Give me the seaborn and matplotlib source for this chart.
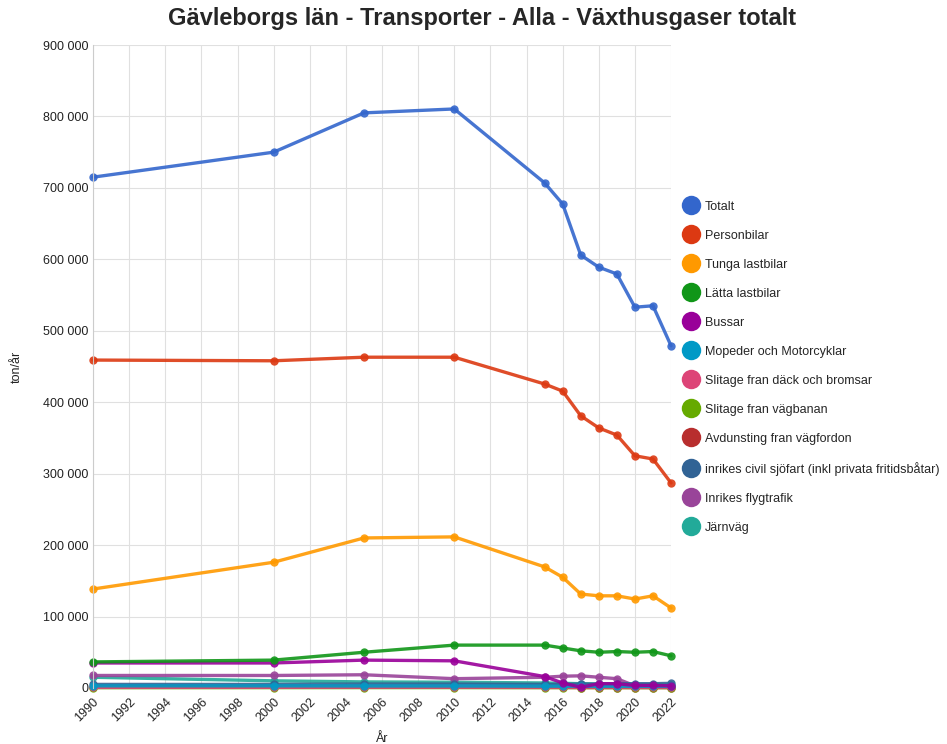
import numpy as np
import pandas as pd
import matplotlib.pyplot as plt
import seaborn as sns
from matplotlib.lines import Line2D
from matplotlib.ticker import FuncFormatter

years = [1990, 2000, 2005, 2010, 2015, 2016, 2017, 2018, 2019, 2020, 2021, 2022]

totalt = [715000, 750000, 805000, 810500, 707000, 677500, 606000, 589000, 579500, 533000, 535000, 479000]
personbilar = [459000, 458000, 463000, 463000, 425500, 415500, 381000, 364000, 354000, 325000, 320500, 287000]
tunga_lastbilar = [138500, 176000, 210000, 211500, 169500, 155000, 131500, 129000, 129000, 124500, 129000, 112000]
latta_lastbilar = [36500, 39000, 50000, 60000, 60000, 56000, 52000, 50000, 51000, 50000, 51000, 45000]
bussar = [35000, 35000, 39000, 38000, 16000, 7000, 1000, 6000, 6000, 3500, 3500, 3000]
mopeder = [3000, 3000, 2800, 2800, 2500, 2500, 2400, 2400, 2400, 2300, 2300, 2200]
slitage_dack = [800, 900, 1000, 1000, 1000, 1000, 1000, 1000, 1000, 1000, 1000, 1000]
slitage_vagbanan = [400, 450, 500, 500, 500, 500, 500, 500, 500, 500, 500, 500]
avdunsting = [2000, 1500, 1200, 900, 700, 700, 600, 600, 600, 500, 500, 500]
sjofart = [5000, 5000, 5500, 5500, 5000, 5000, 5500, 5500, 6000, 6000, 6000, 6500]
flygtrafik = [17500, 17500, 18500, 13000, 15000, 16500, 17000, 15000, 13000, 3000, 3000, 3000]
jarnvag = [15000, 10000, 8500, 8000, 7000, 6500, 6000, 5500, 5000, 4500, 4500, 4000]

series = {
    "Totalt": totalt,
    "Personbilar": personbilar,
    "Tunga lastbilar": tunga_lastbilar,
    "Lätta lastbilar": latta_lastbilar,
    "Bussar": bussar,
    "Mopeder och Motorcyklar": mopeder,
    "Slitage fran däck och bromsar": slitage_dack,
    "Slitage fran vägbanan": slitage_vagbanan,
    "Avdunsting fran vägfordon": avdunsting,
    "inrikes civil sjöfart (inkl privata fritidsbåtar)": sjofart,
    "Inrikes flygtrafik": flygtrafik,
    "Järnväg": jarnvag,
}
colors = ["#3366cc", "#dc3912", "#ff9900", "#109618", "#990099", "#0099c6",
          "#dd4477", "#66aa00", "#b82e2e", "#316395", "#994499", "#22aa99"]

rows = []
for name, vals in series.items():
    for y, v in zip(years, vals):
        rows.append({"År": y, "ton/år": v, "serie": name})
df = pd.DataFrame(rows)

sns.set_style("white")
plt.rcParams['font.family'] = ['Arial', 'Liberation Sans', 'DejaVu Sans']

fig = plt.figure(figsize=(9.47, 7.44), dpi=100)
ax = fig.add_axes([0.0982, 0.0753, 0.6104, 0.8642])

# small series first so the big ones end on top like the reference
order = list(series.keys())[::-1]
palette = dict(zip(series.keys(), colors))
sns.lineplot(data=df, x="År", y="ton/år", hue="serie", hue_order=order,
             palette=palette, marker="o", markersize=6, markeredgewidth=0,
             linewidth=2.4, alpha=0.9, legend=False, ax=ax)
for ln in ax.lines:
    ln.set_clip_on(False)

ax.set_xlim(1990, 2022)
ax.set_ylim(0, 900000)
ax.set_xticks(np.arange(1990, 2023, 2))
ax.set_yticks(np.arange(0, 900001, 100000))
ax.yaxis.set_major_formatter(FuncFormatter(lambda v, p: f"{int(v):,}".replace(",", " ")))
ax.grid(True, color="#e0e0e0", linewidth=0.8)
ax.set_axisbelow(True)
for s in ["top", "right", "bottom"]:
    ax.spines[s].set_visible(False)
ax.spines["left"].set_color("#cccccc")
ax.tick_params(axis="both", labelsize=9, colors="#222222", length=0)
ax.tick_params(axis="x", pad=6)
plt.setp(ax.get_xticklabels(), rotation=45, ha="right", rotation_mode="anchor")

ax.set_xlabel("År", fontsize=9, color="#222222", labelpad=6)
ax.set_ylabel("ton/år", fontsize=9, color="#222222", labelpad=14)

fig.suptitle("Gävleborgs län - Transporter - Alla - Växthusgaser totalt",
             fontsize=17, fontweight="bold", x=0.509, y=0.99)

handles = [Line2D([0], [0], marker="o", linestyle="", markersize=14,
                  markerfacecolor=c, markeredgewidth=0) for c in colors]
fig.legend(handles, list(series.keys()), loc="upper left",
           bbox_to_anchor=(0.716, 0.737), frameon=False, fontsize=9,
           handletextpad=0.55, labelspacing=1.36, handlelength=1.2,
           borderaxespad=0)

fig.savefig("out.png", dpi=100)
